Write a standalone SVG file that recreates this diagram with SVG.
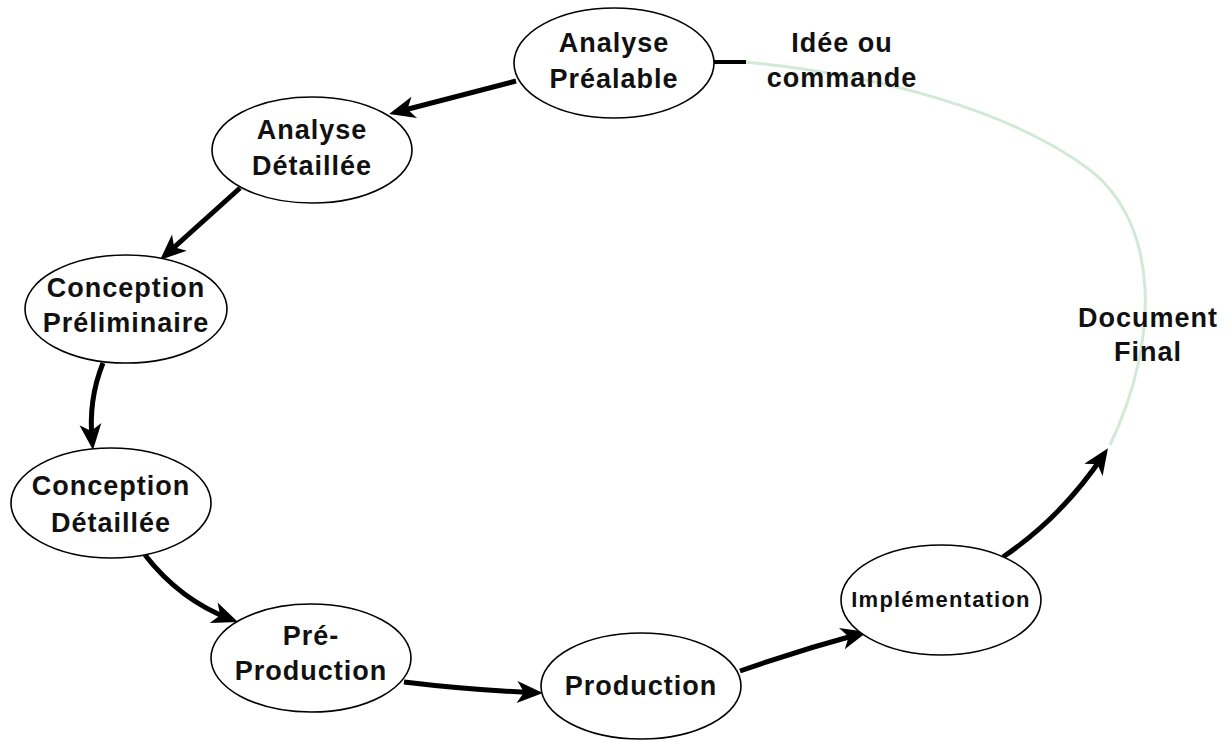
<svg xmlns="http://www.w3.org/2000/svg" width="1231" height="740" viewBox="0 0 1231 740">
  <style>
    .node ellipse { fill: #ffffff; stroke: #000000; stroke-width: 1.6; }
    .lbl { font-family: "Liberation Sans", Arial, sans-serif; font-weight: bold; font-size: 27px; letter-spacing: 1px; fill: #111111; text-anchor: middle; }
    .small { font-size: 22px; letter-spacing: 1.2px; }
    .arrow { fill: none; stroke: #000000; stroke-width: 5; }
    .green { fill: none; stroke: #d3e9d8; stroke-width: 3; }
  </style>
  <defs>
    <marker id="head" markerUnits="userSpaceOnUse" markerWidth="34" markerHeight="28" viewBox="0 -14 30 28" refX="18" refY="0" orient="auto">
      <path d="M0,-11 L26,0 L0,11 L7,0 Z" fill="#000000"/>
    </marker>
  </defs>
  <rect width="1231" height="740" fill="#ffffff"/>

  <g id="connectors">
    <path class="green" d="M745,62 C880,75 1010,110 1090,170 C1160,225 1160,340 1110,445"/>
    <path d="M714,62 L746,62" fill="none" stroke="#000000" stroke-width="4"/>
    <path class="arrow" d="M516,81 L396.8,112" marker-end="url(#head)"/>
    <path class="arrow" d="M240,188 L166,254.6" marker-end="url(#head)"/>
    <path class="arrow" d="M103,363 Q88,400 92.2,442" marker-end="url(#head)"/>
    <path class="arrow" d="M145,555 Q180,600 230.5,619.2" marker-end="url(#head)"/>
    <path class="arrow" d="M404,682 Q470,690 535,692.7" marker-end="url(#head)"/>
    <path class="arrow" d="M740,671 Q800,650 859.3,634" marker-end="url(#head)"/>
    <path class="arrow" d="M1003,557 Q1062,517 1103.5,455" marker-end="url(#head)"/>
  </g>

  <g id="analyse-prealable" class="node">
    <ellipse cx="614" cy="63" rx="100" ry="55"/>
    <text class="lbl" x="614" y="52">Analyse</text>
    <text class="lbl" x="614" y="88">Préalable</text>
  </g>
  <g id="analyse-detaillee" class="node">
    <ellipse cx="312" cy="150" rx="100" ry="53"/>
    <text class="lbl" x="312" y="139">Analyse</text>
    <text class="lbl" x="312" y="175">Détaillée</text>
  </g>
  <g id="conception-preliminaire" class="node">
    <ellipse cx="126" cy="309" rx="101" ry="54"/>
    <text class="lbl" x="126" y="297">Conception</text>
    <text class="lbl" x="126" y="332">Préliminaire</text>
  </g>
  <g id="conception-detaillee" class="node">
    <ellipse cx="111" cy="503" rx="100" ry="55"/>
    <text class="lbl" x="111" y="495">Conception</text>
    <text class="lbl" x="111" y="532">Détaillée</text>
  </g>
  <g id="pre-production" class="node">
    <ellipse cx="311" cy="658" rx="100" ry="54"/>
    <text class="lbl" x="311" y="645">Pré-</text>
    <text class="lbl" x="311" y="680">Production</text>
  </g>
  <g id="production" class="node">
    <ellipse cx="641" cy="686" rx="100" ry="53"/>
    <text class="lbl" x="641" y="695">Production</text>
  </g>
  <g id="implementation" class="node">
    <ellipse cx="941" cy="600" rx="100" ry="55"/>
    <text class="lbl small" x="941" y="607">Implémentation</text>
  </g>
  <g id="idee-ou-commande">
    <text class="lbl" x="842" y="52">Idée ou</text>
    <text class="lbl" x="842" y="87">commande</text>
  </g>
  <g id="document-final">
    <text class="lbl" x="1148" y="327">Document</text>
    <text class="lbl" x="1148" y="361">Final</text>
  </g>
</svg>
